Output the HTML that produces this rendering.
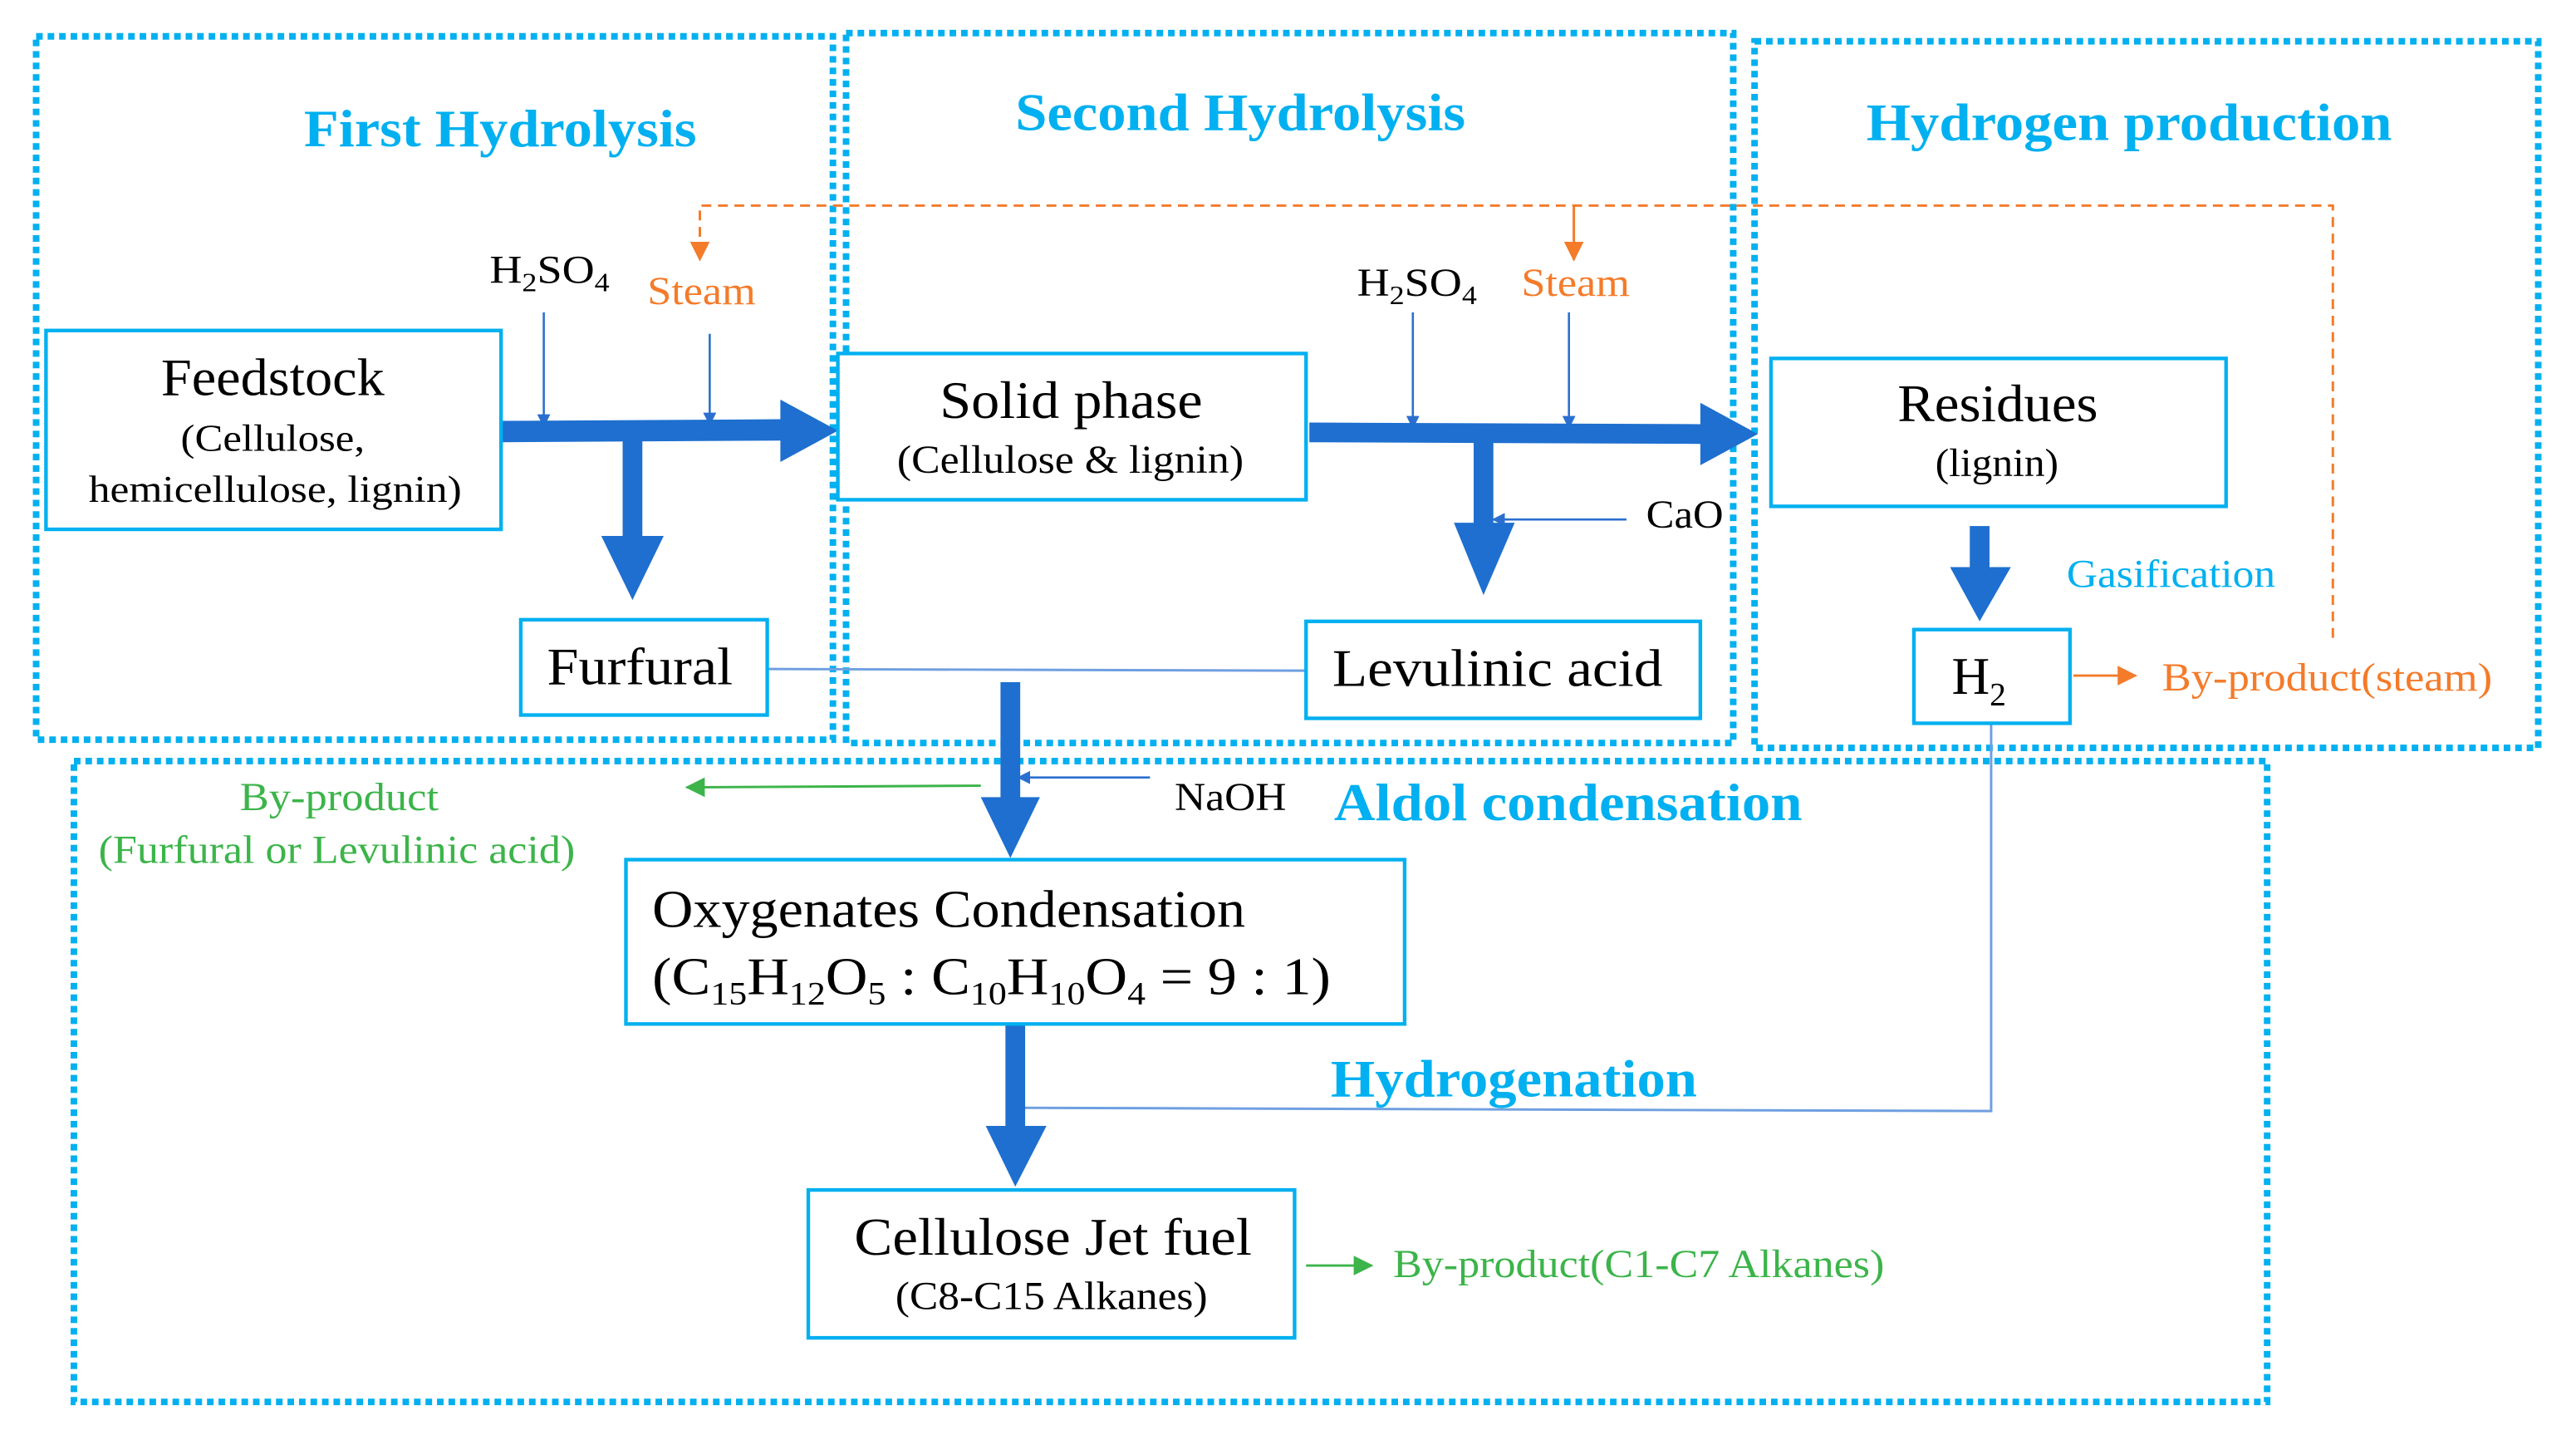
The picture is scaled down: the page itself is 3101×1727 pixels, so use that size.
<!DOCTYPE html>
<html><head><meta charset="utf-8"><style>html,body{margin:0;padding:0;background:#fff}svg{display:block}</style></head><body>
<svg width="3101" height="1727" viewBox="0 0 1568 873" xmlns="http://www.w3.org/2000/svg" font-family="Liberation Serif, serif">
<defs>
<marker id="ab" markerWidth="8" markerHeight="8" refX="7" refY="4" orient="auto" markerUnits="userSpaceOnUse"><path d="M0,0 L8,4 L0,8 z" fill="#2a6fd0"/></marker>
<marker id="ao" markerWidth="12" markerHeight="12" refX="11" refY="6" orient="auto" markerUnits="userSpaceOnUse"><path d="M0,0 L12,6 L0,12 z" fill="#f47b2a"/></marker>
<marker id="ag" markerWidth="12" markerHeight="12" refX="11" refY="6" orient="auto" markerUnits="userSpaceOnUse"><path d="M0,0 L12,6 L0,12 z" fill="#3cb44a"/></marker>
</defs>
<g fill="none" stroke="#00b0f0" stroke-width="4" stroke-dasharray="4 3">
<rect x="22" y="22" width="485" height="428"/>
<rect x="515" y="20" width="540" height="432"/>
<rect x="1068" y="25" width="477" height="430"/>
<rect x="45" y="463" width="1335" height="390"/>
</g>
<g fill="#00b0f0" font-weight="bold" font-size="32" lengthAdjust="spacingAndGlyphs">
<text x="185" y="89" textLength="239" lengthAdjust="spacingAndGlyphs">First Hydrolysis</text>
<text x="618" y="79" textLength="274" lengthAdjust="spacingAndGlyphs">Second Hydrolysis</text>
<text x="1136" y="85" textLength="320" lengthAdjust="spacingAndGlyphs">Hydrogen production</text>
<text x="812" y="499" textLength="285" lengthAdjust="spacingAndGlyphs">Aldol condensation</text>
<text x="810" y="667" textLength="223" lengthAdjust="spacingAndGlyphs">Hydrogenation</text>
</g>
<g fill="none" stroke="#f47b2a" stroke-width="1.5">
<path d="M1420,388 L1420,125 L426,125 L426,158" stroke-dasharray="6 4" marker-end="url(#ao)"/>
<path d="M958,125 L958,158" marker-end="url(#ao)"/>
<path d="M1262,411 L1300,411" marker-end="url(#ao)"/>
</g>
<g fill="none" stroke="#2a6fd0" stroke-width="1.3">
<path d="M331,190 L331,259" marker-end="url(#ab)"/>
<path d="M432,203 L432,258" marker-end="url(#ab)"/>
<path d="M860,190 L860,260" marker-end="url(#ab)"/>
<path d="M955,190 L955,260" marker-end="url(#ab)"/>
<path d="M990,316 L909,316" marker-end="url(#ab)"/>
<path d="M700,473 L620,473" marker-end="url(#ab)"/>
</g>
<g fill="none" stroke="#6f9fe0" stroke-width="1.5">
<path d="M467,407 L795,408"/>
<path d="M1212,440 L1212,676 L620,674"/>
</g>
<g fill="none" stroke="#3cb44a" stroke-width="1.5">
<path d="M597,478 L418,479" marker-end="url(#ag)"/>
<path d="M795,770 L835,770" marker-end="url(#ag)"/>
</g>
<g fill="#1e6fcf">
<path d="M305,256 L475,255 L475,243 L510,262 L475,281 L475,268 L305,269 z"/>
<rect x="379" y="262" width="12" height="66"/>
<path d="M366,326 L404,326 L385,365 z"/>
<path d="M797,257 L1035,258 L1035,245 L1070,264 L1035,283 L1035,270 L797,269 z"/>
<rect x="897" y="263" width="12" height="56"/>
<path d="M885,318 L922,318 L903,362 z"/>
<rect x="1199" y="320" width="12" height="27"/>
<path d="M1187,345 L1224,345 L1205,378 z"/>
<rect x="609" y="415" width="12" height="72"/>
<path d="M597,485 L633,485 L615,522 z"/>
<rect x="612" y="623" width="12" height="64"/>
<path d="M600,685 L637,685 L618,722 z"/>
</g>
<g fill="#fff" stroke="#00b0f0" stroke-width="2.2">
<rect x="28" y="201" width="277" height="121"/>
<rect x="317" y="377" width="150" height="58"/>
<rect x="510" y="215" width="285" height="89"/>
<rect x="795" y="378" width="240" height="59"/>
<rect x="1078" y="218" width="277" height="90"/>
<rect x="1165" y="383" width="95" height="57"/>
<rect x="381" y="523" width="474" height="100"/>
<rect x="492" y="724" width="296" height="90"/>
</g>
<g fill="#000" dominant-baseline="middle">
<text x="98" y="233" font-size="32" textLength="136" lengthAdjust="spacingAndGlyphs">Feedstock</text>
<text x="110" y="269" font-size="23" textLength="112" lengthAdjust="spacingAndGlyphs">(Cellulose,</text>
<text x="54" y="300" font-size="23" textLength="227" lengthAdjust="spacingAndGlyphs">hemicellulose, lignin)</text>
<text x="333" y="409" font-size="32" textLength="113" lengthAdjust="spacingAndGlyphs">Furfural</text>
<text x="572" y="247" font-size="32" textLength="160" lengthAdjust="spacingAndGlyphs">Solid phase</text>
<text x="546" y="282" font-size="24" textLength="211" lengthAdjust="spacingAndGlyphs">(Cellulose &amp; lignin)</text>
<text x="811" y="410" font-size="32" textLength="201" lengthAdjust="spacingAndGlyphs">Levulinic acid</text>
<text x="1155" y="249" font-size="32" textLength="122" lengthAdjust="spacingAndGlyphs">Residues</text>
<text x="1178" y="284" font-size="24" textLength="75" lengthAdjust="spacingAndGlyphs">(lignin)</text>
<text x="520" y="756" font-size="32" textLength="242" lengthAdjust="spacingAndGlyphs">Cellulose Jet fuel</text>
<text x="545" y="791" font-size="24" textLength="190" lengthAdjust="spacingAndGlyphs">(C8-C15 Alkanes)</text>
</g>
<text x="1188" y="422" font-size="32">H<tspan font-size="20" dy="7">2</tspan></text>
<text x="397" y="564" font-size="32" textLength="361" lengthAdjust="spacingAndGlyphs">Oxygenates Condensation</text>
<text x="397" y="605" font-size="32" textLength="413" lengthAdjust="spacingAndGlyphs">(C<tspan font-size="20" dy="6">15</tspan><tspan dy="-6">H</tspan><tspan font-size="20" dy="6">12</tspan><tspan dy="-6">O</tspan><tspan font-size="20" dy="6">5</tspan><tspan dy="-6"> : C</tspan><tspan font-size="20" dy="6">10</tspan><tspan dy="-6">H</tspan><tspan font-size="20" dy="6">10</tspan><tspan dy="-6">O</tspan><tspan font-size="20" dy="6">4</tspan><tspan dy="-6"> = 9 : 1)</tspan></text>
<g font-size="24">
<text x="298" y="172" textLength="73" lengthAdjust="spacingAndGlyphs">H<tspan font-size="16" dy="5">2</tspan><tspan dy="-5">SO</tspan><tspan font-size="16" dy="5">4</tspan></text>
<text x="826" y="180" textLength="73" lengthAdjust="spacingAndGlyphs">H<tspan font-size="16" dy="5">2</tspan><tspan dy="-5">SO</tspan><tspan font-size="16" dy="5">4</tspan></text>
<text x="394" y="185" fill="#f47b2a" textLength="66" lengthAdjust="spacingAndGlyphs">Steam</text>
<text x="926" y="180" fill="#f47b2a" textLength="66" lengthAdjust="spacingAndGlyphs">Steam</text>
<text x="1002" y="321" textLength="47" lengthAdjust="spacingAndGlyphs">CaO</text>
<text x="715" y="493" textLength="68" lengthAdjust="spacingAndGlyphs">NaOH</text>
<text x="1258" y="357" fill="#00b0f0" textLength="127" lengthAdjust="spacingAndGlyphs">Gasification</text>
<text x="1316" y="420" fill="#f47b2a" textLength="201" lengthAdjust="spacingAndGlyphs">By-product(steam)</text>
<text x="146" y="493" fill="#3cb44a" textLength="121" lengthAdjust="spacingAndGlyphs">By-product</text>
<text x="60" y="525" fill="#3cb44a" textLength="290" lengthAdjust="spacingAndGlyphs">(Furfural or Levulinic acid)</text>
<text x="848" y="777" fill="#3cb44a" textLength="299" lengthAdjust="spacingAndGlyphs">By-product(C1-C7 Alkanes)</text>
</g>
</svg>
</body></html>
